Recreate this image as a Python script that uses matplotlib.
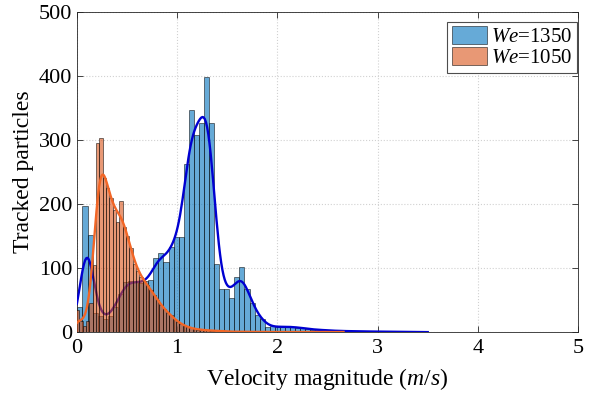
import numpy as np
import matplotlib.pyplot as plt

plt.rcParams['font.family'] = ['Liberation Serif', 'DejaVu Serif']
plt.rcParams['mathtext.fontset'] = 'custom'
plt.rcParams['mathtext.rm'] = 'Liberation Serif'
plt.rcParams['mathtext.it'] = 'Liberation Serif:italic'

# histogram counts
# We=1350 : bins of width 0.0505 starting at 0.005
blue_start, blue_width = 0.005, 0.0505
blue_counts = [40, 197, 151, 30, 25, 20, 25, 40, 60, 78, 80, 78, 76, 80, 81,
               116, 123, 110, 133, 149, 149, 262, 347, 308, 326, 399, 326, 106,
               68, 67, 54, 86, 101, 67, 45, 27, 21, 8, 9, 8, 8, 9, 8, 7, 7, 5,
               4, 4, 3, 3, 2, 2, 2, 1, 2, 1, 1, 1, 1, 1, 0, 1, 0, 1, 0, 1, 0, 0,
               0, 0, 0, 0, 1, 0, 0, 0, 1, 0, 0, 0, 0, 0, 0, 0, 0, 0, 0, 0, 0, 1]

# We=1050 : bins of width 1/30 starting at -0.01
orange_start, orange_width = -0.01, 1 / 30
orange_counts = [35, 18, 10, 18, 45, 105, 295, 303, 240, 225, 209, 190, 172, 205,
                 164, 150, 131, 107, 95, 86, 80, 73, 66, 58, 50, 42, 36, 30, 26,
                 21, 16, 12, 10, 8, 6, 5, 4, 4, 3, 3, 2, 2, 3, 1, 1, 1, 1, 0, 1,
                 1, 0, 1, 0, 0, 1, 0, 1, 0, 0, 0, 1, 0, 0, 0, 1, 0, 0, 1, 0, 0, 0,
                 0, 0, 1, 0, 0, 0, 0, 0, 1]

legend_labels = ['$We$=1350', '$We$=1050']


def edges(start, width, counts):
    return start + width * np.arange(len(counts) + 1)


def kde(counts, start, width, bw, x):
    # smoothed density from the binned counts, scaled to counts per bin
    c = np.asarray(counts, float)
    centers = start + width * (np.arange(len(c)) + 0.5)
    g = np.exp(-0.5 * ((x[:, None] - centers[None, :]) / bw) ** 2) / (bw * np.sqrt(2 * np.pi))
    return (g * c).sum(axis=1) * width


blue_face = (0, 0.447, 0.741)
orange_face = (0.85, 0.325, 0.098)

fig = plt.figure(figsize=(5.96, 3.94), dpi=100)
ax = fig.add_axes([0.129, 0.157, 0.841, 0.8125])

be = edges(blue_start, blue_width, blue_counts)
oe = edges(orange_start, orange_width, orange_counts)

ax.hist(be[:-1], bins=be, weights=blue_counts, color=blue_face, alpha=0.6,
        edgecolor='black', linewidth=0.6, label=legend_labels[0], zorder=2)
xb = np.linspace(0, 3.5, 300)
ax.plot(xb, kde(blue_counts, blue_start, blue_width, 0.062, xb),
        color=(0.0, 0.0, 0.82), linewidth=1.7, zorder=3)

ax.hist(oe[:-1], bins=oe, weights=orange_counts, color=orange_face, alpha=0.6,
        edgecolor='black', linewidth=0.6, label=legend_labels[1], zorder=4)
xo = np.linspace(0, 2.66, 300)
ax.plot(xo, kde(orange_counts, orange_start, orange_width, 0.05, xo),
        color=(0.95, 0.4, 0.15), linewidth=1.7, zorder=5)

ax.set_xlim(0, 5)
ax.set_ylim(0, 500)
ax.set_xticks(range(0, 6))
ax.set_yticks(range(0, 501, 100))
ax.tick_params(direction='in', top=True, right=True, labelsize=16, length=4,
               color='0.15', width=0.6)
ax.tick_params(axis='x', pad=5)
ax.grid(True, linestyle=':', color='0.82', linewidth=0.8)
ax.set_axisbelow(True)
for s in ax.spines.values():
    s.set_color('0.15')
    s.set_linewidth(0.6)

ax.set_xlabel('Velocity magnitude ($m/s$)', fontsize=17, labelpad=6)
ax.set_ylabel('Tracked particles', fontsize=17, labelpad=3)

leg = ax.legend(loc='upper right', bbox_to_anchor=(0.997, 0.969), fontsize=15,
                fancybox=False, framealpha=1, edgecolor='0.3', borderaxespad=0,
                handlelength=1.7, handleheight=0.95, handletextpad=0.2,
                borderpad=0.2, labelspacing=0.0)
leg.get_frame().set_linewidth(0.8)

fig.savefig('out.png', dpi=100)
